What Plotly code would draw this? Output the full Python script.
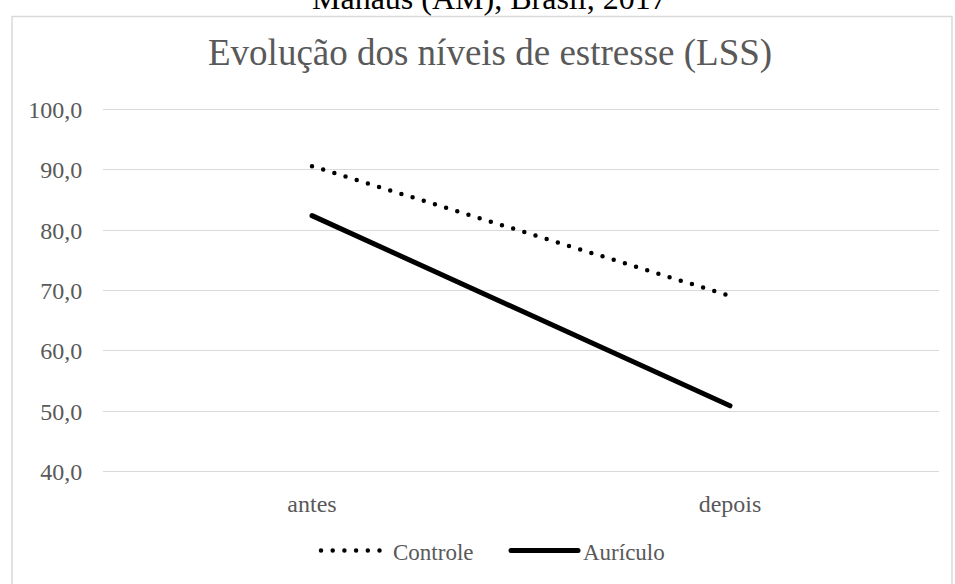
import plotly.graph_objects as go

# Data
momentos = ["antes", "depois"]
controle = [90.6, 69.1]
auriculo = [82.4, 50.9]
y_ticks = [40, 50, 60, 70, 80, 90, 100]
y_tick_labels = ["40,0", "50,0", "60,0", "70,0", "80,0", "90,0", "100,0"]

W, H = 955, 584
L, R, T, B = 103, 16, 107, 108
PW, PH = W - L - R, H - T - B

def px_x(x):
    return (x - L) / PW

def px_y(y):
    return (H - B - y) / PH

FONT = "Liberation Serif, Times New Roman, serif"
GRAY = "#595959"

fig = go.Figure()
fig.add_trace(go.Scatter(
    x=momentos, y=controle, name="Controle", mode="lines",
    line=dict(color="black", width=4.5, dash="0px,11.7px"),
))
fig.add_trace(go.Scatter(
    x=momentos, y=auriculo, name="Aurículo", mode="lines",
    line=dict(color="black", width=5),
))

fig.update_layout(
    width=W, height=H,
    margin=dict(l=L, r=R, t=T, b=B),
    paper_bgcolor="white", plot_bgcolor="white",
    font=dict(family=FONT, color=GRAY, size=24),
    showlegend=True,
    legend=dict(
        orientation="h", xanchor="center", yanchor="middle",
        x=px_x(506), y=px_y(553), itemwidth=67,
        entrywidth=108, entrywidthmode="pixels",
        font=dict(size=23, color=GRAY, family=FONT),
        traceorder="normal",
    ),
    xaxis=dict(
        type="category", range=[-0.5, 1.5], showgrid=False, zeroline=False,
        showline=False, ticks="outside", ticklen=8, tickcolor="rgba(0,0,0,0)",
        tickfont=dict(size=24, color=GRAY, family=FONT),
    ),
    yaxis=dict(
        range=[39.6, 100.4], tickvals=y_ticks, ticktext=y_tick_labels,
        showgrid=True, gridcolor="#d9d9d9", gridwidth=1.3, zeroline=False,
        showline=False, ticks="outside", ticklen=15, tickcolor="rgba(0,0,0,0)",
        tickfont=dict(size=24, color=GRAY, family=FONT),
    ),
    shapes=[dict(
        type="rect", xref="paper", yref="paper",
        x0=px_x(12), x1=px_x(952), y0=px_y(620), y1=px_y(16),
        line=dict(color="#d9d9d9", width=1.5), fillcolor="rgba(0,0,0,0)",
        layer="below",
    )],
    annotations=[
        dict(
            text="Evolução dos níveis de estresse (LSS)", xref="paper", yref="paper",
            x=px_x(490), y=px_y(53), xanchor="center", yanchor="middle",
            showarrow=False, font=dict(size=37, color=GRAY, family=FONT),
        ),
        dict(
            text="Manaus (AM), Brasil, 2017", xref="paper", yref="paper",
            x=px_x(489), y=px_y(18), xanchor="center", yanchor="bottom",
            showarrow=False, font=dict(size=32, color="black", family=FONT),
        ),
    ],
)

# Round line caps so the dotted series renders as round dots
post = """
var gd = document.querySelector('.js-plotly-plot');
function roundCaps(){
  document.querySelectorAll('.scatterlayer .js-line, .legend .js-line').forEach(function(p){
    p.style.strokeLinecap = 'round';
  });
}
roundCaps();
gd.on('plotly_afterplot', roundCaps);
"""

fig.write_html("out.html", post_script=post)
